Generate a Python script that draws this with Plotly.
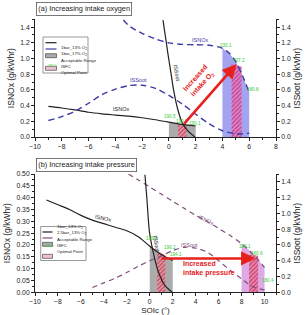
import plotly.graph_objects as go

# ---------------- data: panel (a) increasing intake oxygen ----------------
a_nox13_x = [-9, -8, -7, -6, -5, -4, -3, -2, -1, 0, 1, 2]
a_nox13_y = [0.39, 0.37, 0.345, 0.315, 0.295, 0.28, 0.265, 0.245, 0.22, 0.19, 0.16, 0.14]
a_soot13_x = [-0.44, -0.25, -0.07, 0.15, 0.35, 0.65, 1.0, 1.4, 1.95]
a_soot13_y = [1.49, 1.27, 1.06, 0.82, 0.6, 0.36, 0.18, 0.08, 0.0]
a_nox17_x = [-3.4, -3, -2, -1, 0, 1, 2, 3, 4, 4.5, 5, 5.5, 6]
a_nox17_y = [1.49, 1.42, 1.32, 1.25, 1.2, 1.18, 1.175, 1.17, 1.13, 1.07, 0.96, 0.78, 0.57]
a_soot17_x = [-9, -8, -7, -6, -5, -4, -3, -2, -1, 0, 1, 2, 3, 4, 5, 6]
a_soot17_y = [0.21, 0.26, 0.33, 0.43, 0.54, 0.61, 0.655, 0.66, 0.62, 0.53, 0.42, 0.29, 0.17, 0.08, 0.04, 0.05]
a_acc13_x = [0, 1, 2]
a_acc13_y = [0.19, 0.16, 0.14]
a_opt13_x = [0.68, 1.31]
a_opt13_y = [0.17, 0.155]
a_acc17_x = [4, 4.5, 5, 5.5, 6]
a_acc17_y = [1.13, 1.07, 0.96, 0.78, 0.57]
a_opt17_x = [4.68, 5.43]
a_opt17_y = [0.93, 0.9]
a_isfc_x = [0.05, 1.0, 1.95, 4.25, 5.25, 6.3]
a_isfc_y = [0.26, 0.2, 0.17, 1.17, 0.98, 0.6]
a_isfc_t = ["190.5", "190.9", "190.1", "230.1", "227.2", "180.8"]

# ---------------- data: panel (b) increasing intake pressure ----------------
b_nox1_x = [-9, -8, -7, -6, -5, -4, -3, -2, -1, 0, 1, 2]
b_nox1_y = [0.39, 0.37, 0.35, 0.325, 0.305, 0.29, 0.275, 0.26, 0.235, 0.195, 0.16, 0.135]
b_soot1_x = [-0.42, -0.25, -0.03, 0.3, 0.75, 1.3, 1.95]
b_soot1_y = [1.49, 1.19, 0.77, 0.51, 0.26, 0.09, 0.0]
b_nox25_x = [-1.86, -1, 0, 1, 2, 3, 4, 5, 6, 7, 8, 8.5, 9, 9.5, 10]
b_nox25_y = [0.5, 0.475, 0.445, 0.415, 0.385, 0.355, 0.325, 0.3, 0.27, 0.24, 0.205, 0.185, 0.16, 0.135, 0.105]
b_soot25_x = [-5, -4, -3, -2, -1, 0, 1, 2, 3, 4, 5, 6, 7, 8, 9, 10]
b_soot25_y = [0.06, 0.12, 0.18, 0.25, 0.33, 0.4, 0.46, 0.53, 0.57, 0.56, 0.51, 0.4, 0.28, 0.17, 0.07, 0.03]
b_acc1_x = [0, 1, 2]
b_acc1_y = [0.195, 0.16, 0.135]
b_opt1_x = [0.65, 1.35]
b_opt1_y = [0.175, 0.158]
b_acc25_x = [8, 8.5, 9, 9.5, 10]
b_acc25_y = [0.205, 0.185, 0.16, 0.135, 0.105]
b_opt25_x = [8.65, 9.44]
b_opt25_y = [0.16, 0.155]
b_isfc_x = [0.2, 1.75, 2.25, 8.3, 9.35, 10.3]
b_isfc_y = [0.228, 0.19, 0.158, 0.193, 0.162, 0.05]
b_isfc_t = ["195.3", "196.2", "194.1", "180.1", "180.6", "180.4"]

FONT = "Liberation Sans, Arial, sans-serif"
BLUE = "#3b3ba6"
PURP = "#7d4f78"
GREEN = "#33cc33"
RED = "#e8201c"

fig = go.Figure()


def region(x, y, xa, ya, color):
    fig.add_trace(go.Scatter(x=[x[0]] + x + [x[-1]], y=[0] + y + [0], xaxis=xa, yaxis=ya,
                             mode="lines", line=dict(width=0), fill="toself",
                             fillcolor=color, hoverinfo="skip", showlegend=False))


def hatch(x, y, xa, ya, bg, fg):
    fig.add_trace(go.Scatter(x=[x[0]] + x + [x[-1]], y=[0] + y + [0], xaxis=xa, yaxis=ya,
                             mode="lines", line=dict(width=0), fill="toself",
                             fillcolor=bg,
                             fillpattern=dict(shape="/", fgcolor=fg, bgcolor=bg, size=3, solidity=0.35),
                             hoverinfo="skip", showlegend=False))


def curve(x, y, xa, ya, color, dash="solid", width=1.2):
    fig.add_trace(go.Scatter(x=x, y=y, xaxis=xa, yaxis=ya, mode="lines",
                             line=dict(color=color, dash=dash, width=width, shape="spline", smoothing=0.8),
                             hoverinfo="skip", showlegend=False))


# panel (a)
region(a_acc13_x, a_acc13_y, "x", "y", "#ababab")
hatch(a_opt13_x, a_opt13_y, "x", "y", "rgba(228,150,165,0.85)", "rgba(200,40,70,0.9)")
region(a_acc17_x, a_acc17_y, "x", "y", "#a3a3f2")
hatch(a_opt17_x, a_opt17_y, "x", "y", "rgba(222,130,200,0.85)", "rgba(200,40,110,0.9)")
curve(a_nox13_x, a_nox13_y, "x", "y", "#222222")
curve(a_soot13_x, a_soot13_y, "x", "y2", "#222222")
curve(a_nox17_x, a_nox17_y, "x", "y", BLUE, "6px,4px", 1.4)
curve(a_soot17_x, a_soot17_y, "x", "y2", BLUE, "6px,4px", 1.4)

# panel (b)
region(b_acc1_x, b_acc1_y, "x2", "y3", "#ababab")
hatch(b_opt1_x, b_opt1_y, "x2", "y3", "rgba(228,150,165,0.85)", "rgba(200,40,70,0.9)")
region(b_acc25_x, b_acc25_y, "x2", "y3", "#ddaae6")
hatch(b_opt25_x, b_opt25_y, "x2", "y3", "rgba(228,130,170,0.85)", "rgba(205,40,80,0.9)")
curve(b_nox1_x, b_nox1_y, "x2", "y3", "#222222")
curve(b_soot1_x, b_soot1_y, "x2", "y4", "#222222")
curve(b_nox25_x, b_nox25_y, "x2", "y3", PURP, "5px,4px", 1.2)
curve(b_soot25_x, b_soot25_y, "x2", "y4", PURP, "5px,4px", 1.2)

W, H = 307, 315


def P(px, py):
    return px / W, 1 - py / H


ann = []
shapes = []

# ISFC labels
for xs, ys, ts, xr, yr in [(a_isfc_x, a_isfc_y, a_isfc_t, "x", "y"), (b_isfc_x, b_isfc_y, b_isfc_t, "x2", "y3")]:
    for xv, yv, tv in zip(xs, ys, ts):
        ann.append(dict(x=xv, y=yv, xref=xr, yref=yr, text=tv, showarrow=False,
                        font=dict(size=4.6, color=GREEN, family=FONT)))

# arrows
ann.append(dict(x=5.05, y=0.93, ax=1.05, ay=0.15, xref="x", yref="y", axref="x", ayref="y",
                showarrow=True, arrowhead=2, arrowsize=1.1, arrowwidth=2.6, arrowcolor=RED, text=""))
ann.append(dict(x=9.2, y=0.143, ax=0.9, ay=0.143, xref="x2", yref="y3", axref="x2", ayref="y3",
                showarrow=True, arrowhead=2, arrowsize=1.1, arrowwidth=2.6, arrowcolor=RED, text=""))
ann.append(dict(x=2.3, y=0.71, xref="x", yref="y", text="<b>Increased<br>intake O<sub>2</sub></b>",
                showarrow=False, textangle=-48, font=dict(size=7, color=RED, family=FONT)))
ann.append(dict(x=2.75, y=0.1, xref="x2", yref="y3", xanchor="left", align="left",
                text="<b>Increased<br>intake pressure</b>", showarrow=False,
                font=dict(size=7, color=RED, family=FONT)))

# curve labels
def lab(x, y, xr, yr, t, color="#222", angle=0):
    ann.append(dict(x=x, y=y, xref=xr, yref=yr, text=t, showarrow=False, textangle=angle,
                    font=dict(size=5.5, color=color, family=FONT)))


lab(-3.55, 0.36, "x", "y", "ISNOx")
lab(-2.25, 0.73, "x", "y2", "ISSoot", BLUE)
lab(2.3, 1.23, "x", "y", "ISNOx", BLUE)
lab(0.62, 0.82, "x", "y2", "ISSoot", angle=80)
lab(-4.1, 0.313, "x2", "y3", "ISNOx", angle=12)
lab(0.55, 0.62, "x2", "y4", "ISSoot", angle=82)
lab(4.9, 0.305, "x2", "y3", "ISNOx", PURP, 25)
lab(3.5, 0.2, "x2", "y3", "ISSoot", PURP)

# panel titles
for txt, py in [("(a) Increasing intake oxygen", 2), ("(b) Increasing intake pressure", 157.5)]:
    px_, pyy = P(36, py)
    ann.append(dict(x=px_, y=pyy, xref="paper", yref="paper", xanchor="left", yanchor="top",
                    text=txt, showarrow=False, bordercolor="#555", borderwidth=0.8, borderpad=1.5,
                    bgcolor="white", font=dict(size=7.3, color="#222", family=FONT)))


# manual legends
def legend(box, rows, sx0, sx1, tx):
    x0, y0 = P(box[0], box[1])
    x1, y1 = P(box[2], box[3])
    shapes.append(dict(type="rect", xref="paper", yref="paper", x0=x0, y0=y1, x1=x1, y1=y0,
                       line=dict(color="#555", width=0.6), fillcolor="white"))
    for (kind, col, label), ry in rows:
        a0, yy = P(sx0, ry)
        a1, _ = P(sx1, ry)
        if kind == "line":
            shapes.append(dict(type="line", xref="paper", yref="paper", x0=a0, x1=a1, y0=yy, y1=yy,
                               line=dict(color=col, width=1.2)))
        elif kind == "box":
            _, yb = P(0, ry + 2)
            _, yt = P(0, ry - 2)
            shapes.append(dict(type="rect", xref="paper", yref="paper", x0=a0, x1=a1, y0=yb, y1=yt,
                               line=dict(color="#333", width=0.6), fillcolor=col))
        elif kind == "txt":
            ann.append(dict(x=a0, y=yy, xref="paper", yref="paper", xanchor="left", text="190.1",
                            showarrow=False, font=dict(size=3.5, color=GREEN, family=FONT)))
        ax_, _ = P(tx, ry)
        ann.append(dict(x=ax_, y=yy, xref="paper", yref="paper", xanchor="left", text=label,
                        showarrow=False, font=dict(size=4.3, color="#222", family=FONT)))


legend((43, 37, 88, 73), list(zip([
    ("line", "#222", "1bar_13% O<sub>2</sub>"),
    ("line", BLUE, "1bar_17% O<sub>2</sub>"),
    ("box", "#ababab", "Acceptable Range"),
    ("txt", GREEN, "ISFC"),
    ("box", "rgba(228,150,180,0.6)", "Optimal Point")], [42.7, 49, 55.7, 62, 68.3])), 45.5, 56.5, 58.5)
legend((40.7, 226.5, 86, 260.5), list(zip([
    ("line", "#222", "1bar_13% O<sub>2</sub>"),
    ("line", PURP, "2.5bar_13% O<sub>2</sub>"),
    ("box", "#ababab", "Acceptable Range"),
    ("txt", GREEN, "ISFC"),
    ("box", "rgba(228,150,180,0.6)", "Optimal Point")], [232, 238, 244.3, 250.5, 256.3])), 42.5, 52.5, 54.5)

tick = dict(size=6.8, color="#222", family=FONT)
ttl = dict(size=8.5, color="#222", family=FONT)
common = dict(showline=True, linecolor="#222", linewidth=0.9, ticks="outside", ticklen=3, tickwidth=0.8,
              tickcolor="#222", showgrid=False, zeroline=False, tickfont=tick, automargin=False)
xdom = [35 / W, 276 / W]
ydom_a = [1 - 137 / H, 1 - 19.3 / H]
ydom_b = [1 - 292.3 / H, 1 - 174 / H]
mnr = dict(ticks="outside", ticklen=1.8, tickcolor="#222")

fig.update_layout(
    width=W, height=H, margin=dict(l=0, r=0, t=0, b=0),
    paper_bgcolor="white", plot_bgcolor="white", template="none", showlegend=False,
    font=dict(family=FONT),
    xaxis=dict(domain=xdom, range=[-10, 8], anchor="y", dtick=2, tick0=-10,
               minor=dict(dtick=1, **mnr), **common),
    yaxis=dict(domain=ydom_a, range=[0, 1.5], anchor="x", dtick=0.2, tickformat=".1f",
               minor=dict(dtick=0.1, **mnr),
               title=dict(text="ISNOx (g/kWhr)", font=ttl, standoff=4), **common),
    yaxis2=dict(range=[0, 1.5], anchor="x", overlaying="y", side="right", dtick=0.2, tickformat=".1f",
                minor=dict(dtick=0.1, **mnr),
                title=dict(text="ISSoot (g/kWhr)", font=ttl, standoff=4), **common),
    xaxis2=dict(domain=xdom, range=[-10, 11], anchor="y3", dtick=2, tick0=-10,
                minor=dict(dtick=1, **mnr),
                title=dict(text="SOIc (°)", font=dict(size=8, color="#222", family=FONT), standoff=3), **common),
    yaxis3=dict(domain=ydom_b, range=[0, 0.5], anchor="x2", dtick=0.05, tickformat=".2f",
                minor=dict(dtick=0.025, **mnr),
                title=dict(text="ISNOx (g/kWhr)", font=ttl, standoff=4), **common),
    yaxis4=dict(range=[0, 1.5], anchor="x2", overlaying="y3", side="right", dtick=0.2, tickformat=".1f",
                minor=dict(dtick=0.1, **mnr),
                title=dict(text="ISSoot (g/kWhr)", font=ttl, standoff=4), **common),
    annotations=ann, shapes=shapes,
)

fig.write_html("out.html")
